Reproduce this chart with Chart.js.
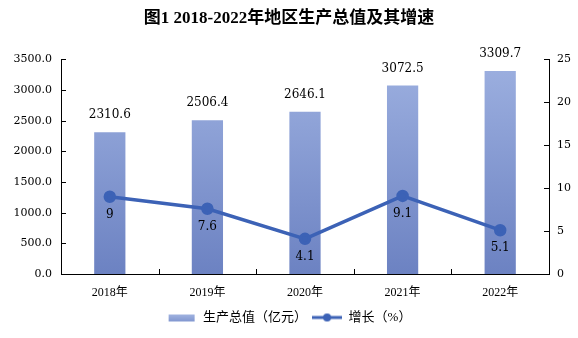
<!DOCTYPE html>
<html><head><meta charset="utf-8">
<script src="https://cdn.jsdelivr.net/npm/chart.js@4.4.0/dist/chart.umd.min.js"></script>
<style>html,body{margin:0;padding:0;background:#fff}#wrap{width:578px;height:338px}</style>
</head><body><div id="wrap"><canvas id="c" width="578" height="338"></canvas></div>
<script>
const titleText = '图1 2018-2022年地区生产总值及其增速';
const categories = ['2018年', '2019年', '2020年', '2021年', '2022年'];
const gdpValues = [2310.6, 2506.4, 2646.1, 3072.5, 3309.7];
const growthValues = [9, 7.6, 4.1, 9.1, 5.1];
const gdpLabel = '生产总值（亿元）';
const growthLabel = '增长（%）';
const leftAxis = { min: 0, max: 3500, step: 500 };
const rightAxis = { min: 0, max: 25, step: 5 };

const numFont = '"DejaVu Serif", "Liberation Serif", serif';
const cjkFont = '"Liberation Serif", "Noto Sans CJK SC", serif';
const lineColor = '#3c62b6';

function barGradient(ctx, area) {
  const g = ctx.createLinearGradient(0, area.top, 0, area.bottom);
  g.addColorStop(0, '#9db0e0');
  g.addColorStop(1, '#6c82c2');
  return g;
}

function legendIcon(kind) {
  const c = document.createElement('canvas');
  c.width = 30; c.height = 12;
  const x = c.getContext('2d');
  if (kind === 'bar') {
    const g = x.createLinearGradient(0, 2, 0, 10);
    g.addColorStop(0, '#a5b6e2'); g.addColorStop(1, '#8196d0');
    x.fillStyle = g; x.fillRect(2, 3, 26, 7);
  } else {
    x.strokeStyle = lineColor; x.lineWidth = 3;
    x.beginPath(); x.moveTo(0, 6); x.lineTo(30, 6); x.stroke();
    x.fillStyle = lineColor; x.beginPath(); x.arc(15, 6, 4, 0, Math.PI * 2); x.fill();
  }
  return c;
}

const tickPlugin = {
  id: 'innerTicks',
  afterDraw(chart) {
    const ctx = chart.ctx;
    const a = chart.chartArea;
    ctx.save();
    ctx.strokeStyle = '#000'; ctx.lineWidth = 1;
    const yl = chart.scales.y, yr = chart.scales.y1, x = chart.scales.x;
    yl.ticks.forEach(t => {
      const p = Math.round(yl.getPixelForValue(t.value)) + 0.5;
      ctx.beginPath(); ctx.moveTo(a.left, p); ctx.lineTo(a.left + 5, p); ctx.stroke();
    });
    yr.ticks.forEach(t => {
      const p = Math.round(yr.getPixelForValue(t.value)) + 0.5;
      ctx.beginPath(); ctx.moveTo(a.right, p); ctx.lineTo(a.right - 5, p); ctx.stroke();
    });
    for (let i = 1; i < categories.length; i++) {
      const p = Math.round((x.getPixelForValue(i - 1) + x.getPixelForValue(i)) / 2) + 0.5;
      ctx.beginPath(); ctx.moveTo(p, a.bottom); ctx.lineTo(p, a.bottom - 5); ctx.stroke();
    }
    ctx.restore();
  }
};

const labelPlugin = {
  id: 'valueLabels',
  afterDatasetsDraw(chart) {
    const ctx = chart.ctx;
    ctx.save();
    ctx.fillStyle = '#000';
    ctx.textAlign = 'center';
    ctx.textBaseline = 'middle';
    ctx.font = '12px ' + numFont;
    chart.getDatasetMeta(0).data.forEach((el, i) => {
      ctx.fillText(gdpValues[i].toFixed(1), el.x, el.y - 17);
    });
    chart.getDatasetMeta(1).data.forEach((el, i) => {
      ctx.fillText(String(growthValues[i]), el.x, el.y + 18);
    });
    ctx.restore();
  }
};

new Chart(document.getElementById('c'), {
  data: {
    labels: categories,
    datasets: [
      {
        type: 'bar', label: gdpLabel, data: gdpValues, yAxisID: 'y', order: 1,
        backgroundColor: (c) => {
          const a = c.chart.chartArea;
          return a ? barGradient(c.chart.ctx, a) : '#8599d2';
        },
        borderWidth: 0, categoryPercentage: 1, barPercentage: 0.32
      },
      {
        type: 'line', label: growthLabel, data: growthValues, yAxisID: 'y1', order: 0,
        borderColor: lineColor, backgroundColor: lineColor, borderWidth: 3.5,
        pointRadius: 4.5, pointBackgroundColor: lineColor, pointBorderColor: lineColor,
        tension: 0
      }
    ]
  },
  options: {
    responsive: false, animation: false, devicePixelRatio: 1,
    layout: { padding: { left: 0, right: 0, top: 0, bottom: 4 } },
    plugins: {
      tooltip: { enabled: false },
      title: {
        display: true, text: titleText, color: '#000',
        font: { family: cjkFont, size: 17, weight: 'bold' },
        padding: { top: 8, bottom: 31 }
      },
      legend: {
        position: 'bottom',
        labels: {
          color: '#000', font: { family: cjkFont, size: 13 },
          usePointStyle: true, pointStyleWidth: 30, boxHeight: 12, padding: 5,
          generateLabels: () => [
            { text: gdpLabel, pointStyle: legendIcon('bar'), fillStyle: '#8599d2', strokeStyle: 'transparent', lineWidth: 0, datasetIndex: 0, hidden: false },
            { text: growthLabel, pointStyle: legendIcon('line'), fillStyle: lineColor, strokeStyle: lineColor, lineWidth: 0, datasetIndex: 1, hidden: false }
          ]
        }
      }
    },
    scales: {
      x: {
        afterFit: (s) => { s.height = 32; },
        grid: { display: false, drawTicks: false },
        border: { display: true, color: '#000', width: 1 },
        ticks: { color: '#000', font: { family: cjkFont, size: 12 }, padding: 12 }
      },
      y: {
        position: 'left', min: leftAxis.min, max: leftAxis.max,
        afterFit: (s) => { s.width = 61; },
        grid: { display: false, drawTicks: false },
        border: { display: true, color: '#000', width: 1 },
        ticks: { stepSize: leftAxis.step, color: '#000', font: { family: numFont, size: 11 }, padding: 9,
          callback: (v) => Number(v).toFixed(1) }
      },
      y1: {
        position: 'right', min: rightAxis.min, max: rightAxis.max,
        afterFit: (s) => { s.width = 29; },
        grid: { display: false, drawTicks: false },
        border: { display: true, color: '#000', width: 1 },
        ticks: { stepSize: rightAxis.step, color: '#000', font: { family: numFont, size: 11 }, padding: 8 }
      }
    }
  },
  plugins: [tickPlugin, labelPlugin]
});
</script></body></html>
